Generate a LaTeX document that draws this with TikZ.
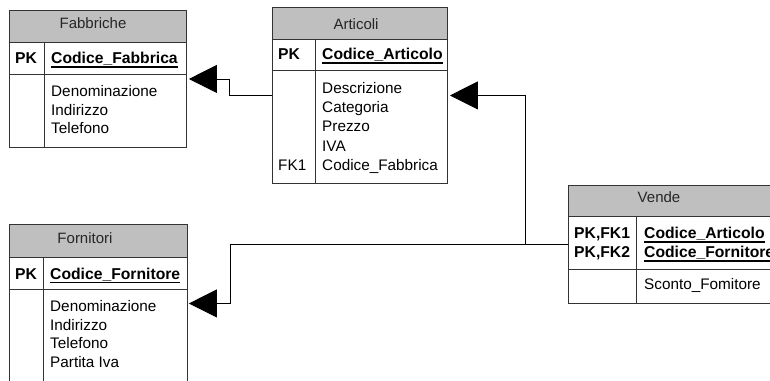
\documentclass[tikz,border=0pt]{standalone}
\usepackage{fontspec}
\setmainfont{Liberation Sans}
\usetikzlibrary{arrows.meta}
\begin{document}
\begin{tikzpicture}[x=1pt,y=-1pt,
  tbl/.style={draw=black!80, line width=0.9pt, rectangle, inner sep=0pt, anchor=north west},
  hdr/.style={fill=black!25, draw=black!80, line width=0.9pt},
  sep/.style={draw=black!80, line width=0.9pt},
  txt/.style={anchor=base west, inner sep=0pt, font=\fontsize{15.3}{18}\selectfont},
  key/.style={anchor=base west, inner sep=0pt, font=\fontsize{15.7}{18}\selectfont\bfseries},
  ttl/.style={anchor=base, inner sep=0pt, text=black!85, font=\fontsize{15}{18}\selectfont},
  conn/.style={draw=black, line width=0.9pt, -{Triangle[length=28pt,width=28pt]}},
  ul/.style={draw=black, line width=1.6pt}
]
\useasboundingbox (0,0) rectangle (770,380);
\clip (0,0) rectangle (770,380);
\fill[white] (0,0) rectangle (770,380);

% ---------- Fabbriche ----------
\node[tbl, minimum width=177pt, minimum height=137pt] (fab) at (9,10) {};
\filldraw[hdr] (9,10) rectangle (186,42);
\draw[sep] (9,74) -- (186,74);
\draw[sep] (44,42) -- (44,147);
\node[ttl] (fabt) at (93,28.3) {Fabbriche};
\node[key] (fabpk) at (15,63.3) {PK};
\node[key] (fabk) at (51,63.3) {Codice\_Fabbrica};
\draw[ul] ([yshift=-3.6pt]fabk.base west) -- ([yshift=-3.6pt]fabk.base east);
\node[txt] (fab1) at (51,96.6) {Denominazione};
\node[txt] (fab2) at (51,115.1) {Indirizzo};
\node[txt] (fab3) at (51,133.6) {Telefono};

% ---------- Articoli ----------
\node[tbl, minimum width=175pt, minimum height=176pt] (art) at (272,7) {};
\filldraw[hdr] (272,7) rectangle (447,39);
\draw[sep] (272,70) -- (447,70);
\draw[sep] (315,39) -- (315,183);
\node[ttl] (artt) at (356,29) {Articoli};
\node[key] (artpk) at (278,59.3) {PK};
\node[key] (artk) at (322,59.3) {Codice\_Articolo};
\draw[ul] ([yshift=-3.6pt]artk.base west) -- ([yshift=-3.6pt]artk.base east);
\node[txt] (art1) at (322,93.3) {Descrizione};
\node[txt] (art2) at (322,112.5) {Categoria};
\node[txt] (art3) at (322,131.8) {Prezzo};
\node[txt] (art4) at (322,151.3) {IVA};
\node[txt] (art5) at (322,170.6) {Codice\_Fabbrica};
\node[txt] (artfk) at (278,170.6) {FK1};

% ---------- Fornitori ----------
\node[tbl, minimum width=178pt, minimum height=158pt] (forn) at (9,224) {};
\filldraw[hdr] (9,224) rectangle (187,257);
\draw[sep] (9,289) -- (187,289);
\draw[sep] (43,257) -- (43,382);
\node[ttl] (fornt) at (85,243.3) {Fornitori};
\node[key] (fornpk) at (15,279) {PK};
\node[key] (fornk) at (50,279) {Codice\_Fornitore};
\draw[ul] ([yshift=-3.6pt]fornk.base west) -- ([yshift=-3.6pt]fornk.base east);
\node[txt] (forn1) at (50,311.7) {Denominazione};
\node[txt] (forn2) at (50,330.2) {Indirizzo};
\node[txt] (forn3) at (50,348.6) {Telefono};
\node[txt] (forn4) at (50,367) {Partita Iva};

% ---------- Vende ----------
\node[tbl, minimum width=222pt, minimum height=118pt] (ven) at (568,185) {};
\filldraw[hdr] (568,185) rectangle (790,216);
\draw[sep] (568,269) -- (790,269);
\draw[sep] (636,216) -- (636,303);
\node[ttl] (vent) at (659,202.3) {Vende};
\node[key] (venpk1) at (574,238.3) {PK,FK1};
\node[key] (venpk2) at (574,257.3) {PK,FK2};
\node[key] (venk1) at (644,238.3) {Codice\_Articolo};
\node[key] (venk2) at (644,257.3) {Codice\_Fornitore};
\draw[ul] ([yshift=-3.6pt]venk1.base west) -- ([yshift=-3.6pt]venk1.base east);
\draw[ul] ([yshift=-3.6pt]venk2.base west) -- ([yshift=-3.6pt]venk2.base east);
\node[txt] (ven1) at (644,289) {Sconto\_Fomitore};

% ---------- connectors ----------
\coordinate (k1) at (229,0);
\coordinate (k2) at (525,0);
\coordinate (k3) at (230,0);
\draw[conn] (art.west) -| (k1 |- fab.east) -- ([xshift=2pt]fab.east);
\draw[conn] (ven.west) -| (k2 |- art.east) -- ([xshift=2pt]art.east);
\draw[conn] (ven.west) -| (k3 |- forn.east) -- ([xshift=1pt]forn.east);
\end{tikzpicture}
\end{document}
